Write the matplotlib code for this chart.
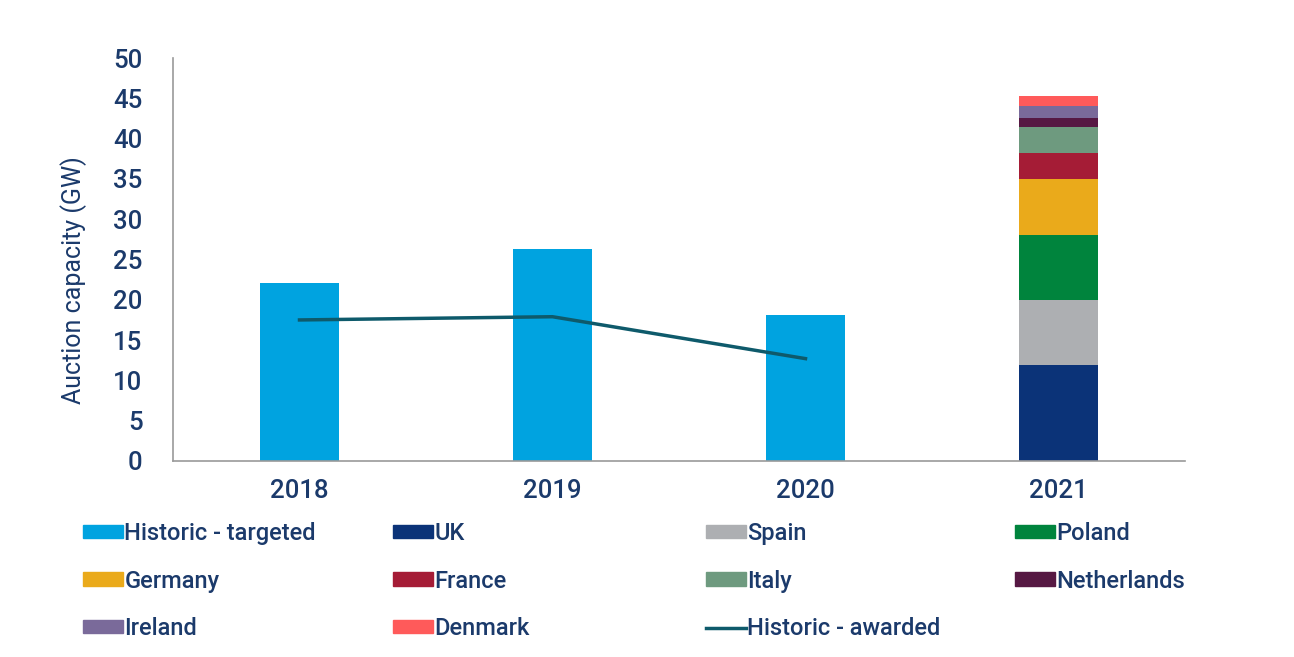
import numpy as np
import matplotlib
matplotlib.use('Agg')
import matplotlib.pyplot as plt
from matplotlib.patches import Patch
from matplotlib.lines import Line2D

plt.rcParams['font.family'] = ['Roboto', 'DejaVu Sans']
plt.rcParams['font.weight'] = 'medium'

# data
years = ['2018', '2019', '2020', '2021']
targeted = [22.1, 26.3, 18.1]
awarded = [17.5, 17.9, 12.7]
countries = ['UK', 'Spain', 'Poland', 'Germany', 'France', 'Italy',
             'Netherlands', 'Ireland', 'Denmark']
capacity_2021 = [11.9, 8.1, 8.0, 7.0, 3.2, 3.2, 1.2, 1.4, 1.3]

c_target = '#00a3e0'
c_award = '#0e5a6b'
c_country = ['#0b3378', '#adafb2', '#00843d', '#eaaa1b', '#a51c36',
             '#6e9a7f', '#561843', '#7a6a9a', '#ff5a5a']
txt = '#1b3a6b'
fs = 17

fig = plt.figure(figsize=(12.94, 6.57), dpi=100)
ax = fig.add_axes([173/1294, 1 - 461/657, 1012/1294, 403/657])

x = np.arange(len(years))
w = 0.316
ax.bar(x[:3], targeted, width=w, color=c_target)
bottom = 0
for val, col in zip(capacity_2021, c_country):
    ax.bar(x[3], val, width=w, bottom=bottom, color=col)
    bottom += val
ax.plot(x[:3], awarded, color=c_award, lw=2.5)

ax.set_xlim(-0.5, 3.5)
ax.set_ylim(0, 50)
ax.set_yticks(range(0, 51, 5))
ax.set_xticks(x)
ax.set_xticklabels(years)
ax.tick_params(length=0, labelsize=18.5, labelcolor=txt)
ax.tick_params(axis='y', pad=22)
ax.tick_params(axis='x', pad=13)
for s in ['top', 'right']:
    ax.spines[s].set_visible(False)
for s in ['left', 'bottom']:
    ax.spines[s].set_color('#9a9a9a')
    ax.spines[s].set_linewidth(1.2)
ax.set_ylabel('Auction capacity (GW)', fontsize=18, color=txt)
ax.yaxis.set_label_coords(-0.085, 0.45)

# legend laid out row by row in four columns
labels = ['Historic - targeted'] + countries + ['Historic - awarded']
handles = [Patch(color=c_target)] + [Patch(color=c) for c in c_country] + \
          [Line2D([0], [0], color=c_award, lw=2.5)]
col_x = [83, 393, 706, 1015]
for ci in range(4):
    idx = list(range(ci, len(labels), 4))
    leg = fig.legend([handles[i] for i in idx], [labels[i] for i in idx],
                     loc='upper left', bbox_to_anchor=(col_x[ci] / 1294, 1 - 522/657),
                     frameon=False, fontsize=fs, handlelength=1.7, handleheight=0.5,
                     handletextpad=0.05, labelspacing=1.04, borderaxespad=0, borderpad=0)
    for t in leg.get_texts():
        t.set_color(txt)

fig.savefig('out.png', dpi=100)
